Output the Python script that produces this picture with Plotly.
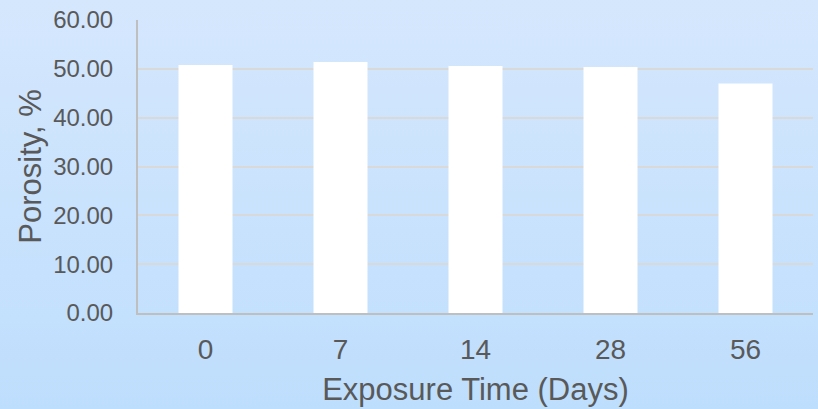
import base64
import plotly.graph_objects as go

# Porosity measured after each exposure period
exposure_days = ["0", "7", "14", "28", "56"]
porosity_pct = [50.8, 51.4, 50.6, 50.4, 47.0]
y_ticks = [0, 10, 20, 30, 40, 50, 60]

W, H = 818, 409
M_L, M_R, M_T, M_B = 138, 5, 20, 96
plot_w = W - M_L - M_R
plot_h = H - M_T - M_B

FONT = "Liberation Sans, Arial, sans-serif"
TEXT = "#595959"

# Soft vertical blue gradient used as the page background
svg = (
    '<svg xmlns="http://www.w3.org/2000/svg" width="100" height="100" preserveAspectRatio="none">'
    '<defs><linearGradient id="g" x1="0" y1="0" x2="0" y2="1">'
    '<stop offset="0" stop-color="#d5e7fd"/>'
    '<stop offset="1" stop-color="#bedefd"/>'
    '</linearGradient></defs>'
    '<rect width="100" height="100" fill="url(#g)"/></svg>'
)
bg_src = "data:image/svg+xml;base64," + base64.b64encode(svg.encode()).decode()

fig = go.Figure(
    go.Bar(
        x=exposure_days,
        y=porosity_pct,
        marker=dict(color="#ffffff", line=dict(width=0)),
        hoverinfo="skip",
    )
)

fig.add_layout_image(
    dict(
        source=bg_src,
        xref="paper",
        yref="paper",
        x=-M_L / plot_w,
        y=1 + M_T / plot_h,
        sizex=W / plot_w,
        sizey=H / plot_h,
        sizing="stretch",
        xanchor="left",
        yanchor="top",
        layer="below",
    )
)

fig.update_layout(
    width=W,
    height=H,
    margin=dict(l=M_L, r=M_R, t=M_T, b=M_B),
    paper_bgcolor="#c9e2fd",
    plot_bgcolor="rgba(0,0,0,0)",
    bargap=0.6,
    showlegend=False,
    font=dict(family=FONT, color=TEXT),
)

fig.update_xaxes(
    type="category",
    showline=True,
    linecolor="#bfbfbf",
    linewidth=2,
    showgrid=False,
    ticks="",
    ticklabelstandoff=10,
    tickfont=dict(size=28, color=TEXT, family=FONT),
    title=dict(
        text="Exposure Time (Days)",
        font=dict(size=31, color=TEXT, family=FONT),
        standoff=15,
    ),
)

fig.update_yaxes(
    range=[0, 60],
    tickvals=y_ticks,
    tickformat=".2f",
    showline=True,
    linecolor="#bfbfbf",
    linewidth=2,
    showgrid=True,
    gridcolor="#d9d9d9",
    gridwidth=1.5,
    zeroline=False,
    ticks="",
    ticklabelstandoff=18,
    tickfont=dict(size=24, color=TEXT, family=FONT),
    title=dict(
        text="Porosity, %",
        font=dict(size=31, color=TEXT, family=FONT),
        standoff=2,
    ),
)

fig.write_html("out.html")
